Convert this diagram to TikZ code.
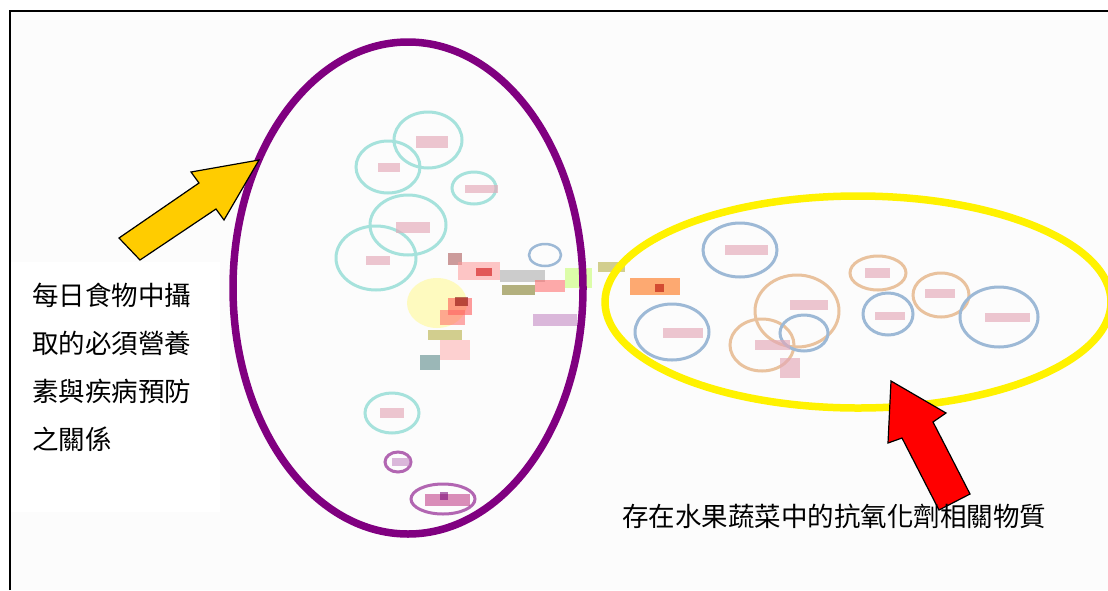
\documentclass[tikz,border=0pt]{standalone}
\usepackage{fontspec}
\newfontfamily\cjk{Noto Sans CJK TC}
\usetikzlibrary{shapes.geometric}
\definecolor{cyanring}{HTML}{A6E2DC}
\definecolor{bluering}{HTML}{9DB9D6}
\definecolor{orangering}{HTML}{E9C29E}
\definecolor{pinklbl}{HTML}{E4A9B8}
\definecolor{purpring}{HTML}{800080}
\definecolor{arrowyellow}{HTML}{FFCC00}
\definecolor{bgfill}{HTML}{FCFCFC}
\begin{document}
\begin{tikzpicture}[x=1pt,y=-1pt,
  cyr/.style={draw=cyanring,line width=3pt},
  blr/.style={draw=bluering,line width=3pt},
  orr/.style={draw=orangering,line width=3pt},
  lbl/.style={fill=pinklbl,opacity=0.65},
  blob/.style={opacity=0.55},
  bigring/.style={draw,ellipse,line width=7.5pt,fill=none,inner sep=0pt},
  arrowshape/.style={draw=black,line width=1.2pt,line join=miter},
  caption/.style={font=\cjk\fontsize{26.5}{48}\selectfont,align=left,inner sep=0pt,anchor=north west}
]
\useasboundingbox (0,0) rectangle (1108,590);
\fill[white] (0,0) rectangle (1108,590);
\fill[bgfill] (10,11) rectangle (1108,590);
\draw[line width=2pt] (10,590) -- (10,11) -- (1108,11);
% white box behind left caption
\fill[white] (11,262) rectangle (220,512);

% ---------- left network cluster (cyan) ----------
\draw[cyr] (428,140) ellipse [x radius=34,y radius=28];
\draw[cyr] (388,167) ellipse [x radius=32,y radius=26];
\draw[cyr] (474,188) ellipse [x radius=22,y radius=16];
\draw[cyr] (408,225) ellipse [x radius=38,y radius=30];
\draw[cyr] (376,258) ellipse [x radius=40,y radius=32];
\draw[cyr] (392,413) ellipse [x radius=27,y radius=20];
\fill[lbl] (416,136) rectangle (448,148);
\fill[lbl] (378,163) rectangle (400,172);
\fill[lbl] (465,185) rectangle (498,193);
\fill[lbl] (396,222) rectangle (430,233);
\fill[lbl] (366,256) rectangle (390,265);
\fill[lbl] (380,408) rectangle (404,418);

% ---------- central cluster ----------
\fill[yellow!35,opacity=0.7] (437,303) ellipse [x radius=30,y radius=25];
\fill[blob,red!70] (448,298) rectangle (472,315);
\fill[blob,red!50!black] (455,297) rectangle (468,306);
\fill[blob,red!60] (440,310) rectangle (465,325);
\fill[blob,red!50!black!70] (448,253) rectangle (462,265);
\fill[blob,pink!80!red] (458,262) rectangle (500,280);
\fill[blob,red!80!black] (476,268) rectangle (492,276);
\fill[blob,gray!70] (500,270) rectangle (545,282);
\fill[blob,olive!80!black] (502,285) rectangle (535,295);
\fill[blob,red!60] (535,280) rectangle (565,292);
\fill[blob,green!40!yellow!60] (565,268) rectangle (592,288);
\draw[blr,line width=2.5pt] (545,255) ellipse [x radius=16,y radius=11];
\fill[blob,violet!50] (533,314) rectangle (577,326);
\fill[blob,olive!70] (428,330) rectangle (462,340);
\fill[blob,pink!90!red] (440,340) rectangle (470,360);
\fill[blob,teal!40!gray] (420,355) rectangle (440,370);
\fill[blob,olive!70] (598,262) rectangle (625,272);
\fill[blob,orange!80!red] (630,278) rectangle (680,295);
\fill[blob,red!70!black] (655,284) rectangle (664,292);

% ---------- bottom purple group ----------
\draw[draw=violet!60,line width=3pt] (398,462) ellipse [x radius=13,y radius=10];
\fill[blob,violet!50] (392,458) rectangle (410,466);
\draw[draw=violet!60,line width=3pt] (443,499) ellipse [x radius=32,y radius=15];
\fill[blob,magenta!50!violet] (425,494) rectangle (470,506);
\fill[blob,violet!90!black] (440,492) rectangle (448,500);

% ---------- right cluster ----------
\draw[blr] (740,250) ellipse [x radius=37,y radius=27];
\draw[blr] (672,332) ellipse [x radius=37,y radius=28];
\draw[orr] (797,311) ellipse [x radius=42,y radius=36];
\draw[orr] (762,345) ellipse [x radius=32,y radius=26];
\draw[blr] (804,333) ellipse [x radius=24,y radius=18];
\draw[orr] (878,273) ellipse [x radius=28,y radius=17];
\draw[orr] (941,295) ellipse [x radius=28,y radius=22];
\draw[blr] (888,314) ellipse [x radius=25,y radius=21];
\draw[blr] (999,317) ellipse [x radius=39,y radius=30];
\fill[lbl] (725,245) rectangle (768,255);
\fill[lbl] (663,328) rectangle (703,338);
\fill[lbl] (790,300) rectangle (828,310);
\fill[lbl] (755,340) rectangle (790,350);
\fill[lbl] (780,358) rectangle (800,378);
\fill[lbl] (865,268) rectangle (890,278);
\fill[lbl] (925,289) rectangle (955,298);
\fill[lbl] (875,312) rectangle (905,320);
\fill[lbl] (985,313) rectangle (1030,322);

% ---------- big grouping ellipses ----------
\node[bigring,draw=purpring,minimum width=350pt,minimum height=492pt] (grpL) at (408,288) {};
\node[bigring,draw=yellow,minimum width=506pt,minimum height=212pt] (grpR) at (858,302) {};

% ---------- arrows ----------
\draw[arrowshape,fill=arrowyellow] (259,160) -- (191,172) -- (199,183) -- (119,238) -- (140,260) -- (216,209) -- (224,220) -- cycle;
\draw[arrowshape,fill=red] (891,381) -- (946,413) -- (933,422) -- (970,494) -- (939,510) -- (902,438) -- (888,443) -- cycle;

% ---------- captions ----------
\node[caption] (capL) at (32,283) {每日食物中攝\\取的必須營養\\素與疾病預防\\之關係};
\node[caption] (capR) at (622,504) {存在水果蔬菜中的抗氧化劑相關物質};
\end{tikzpicture}
\end{document}
